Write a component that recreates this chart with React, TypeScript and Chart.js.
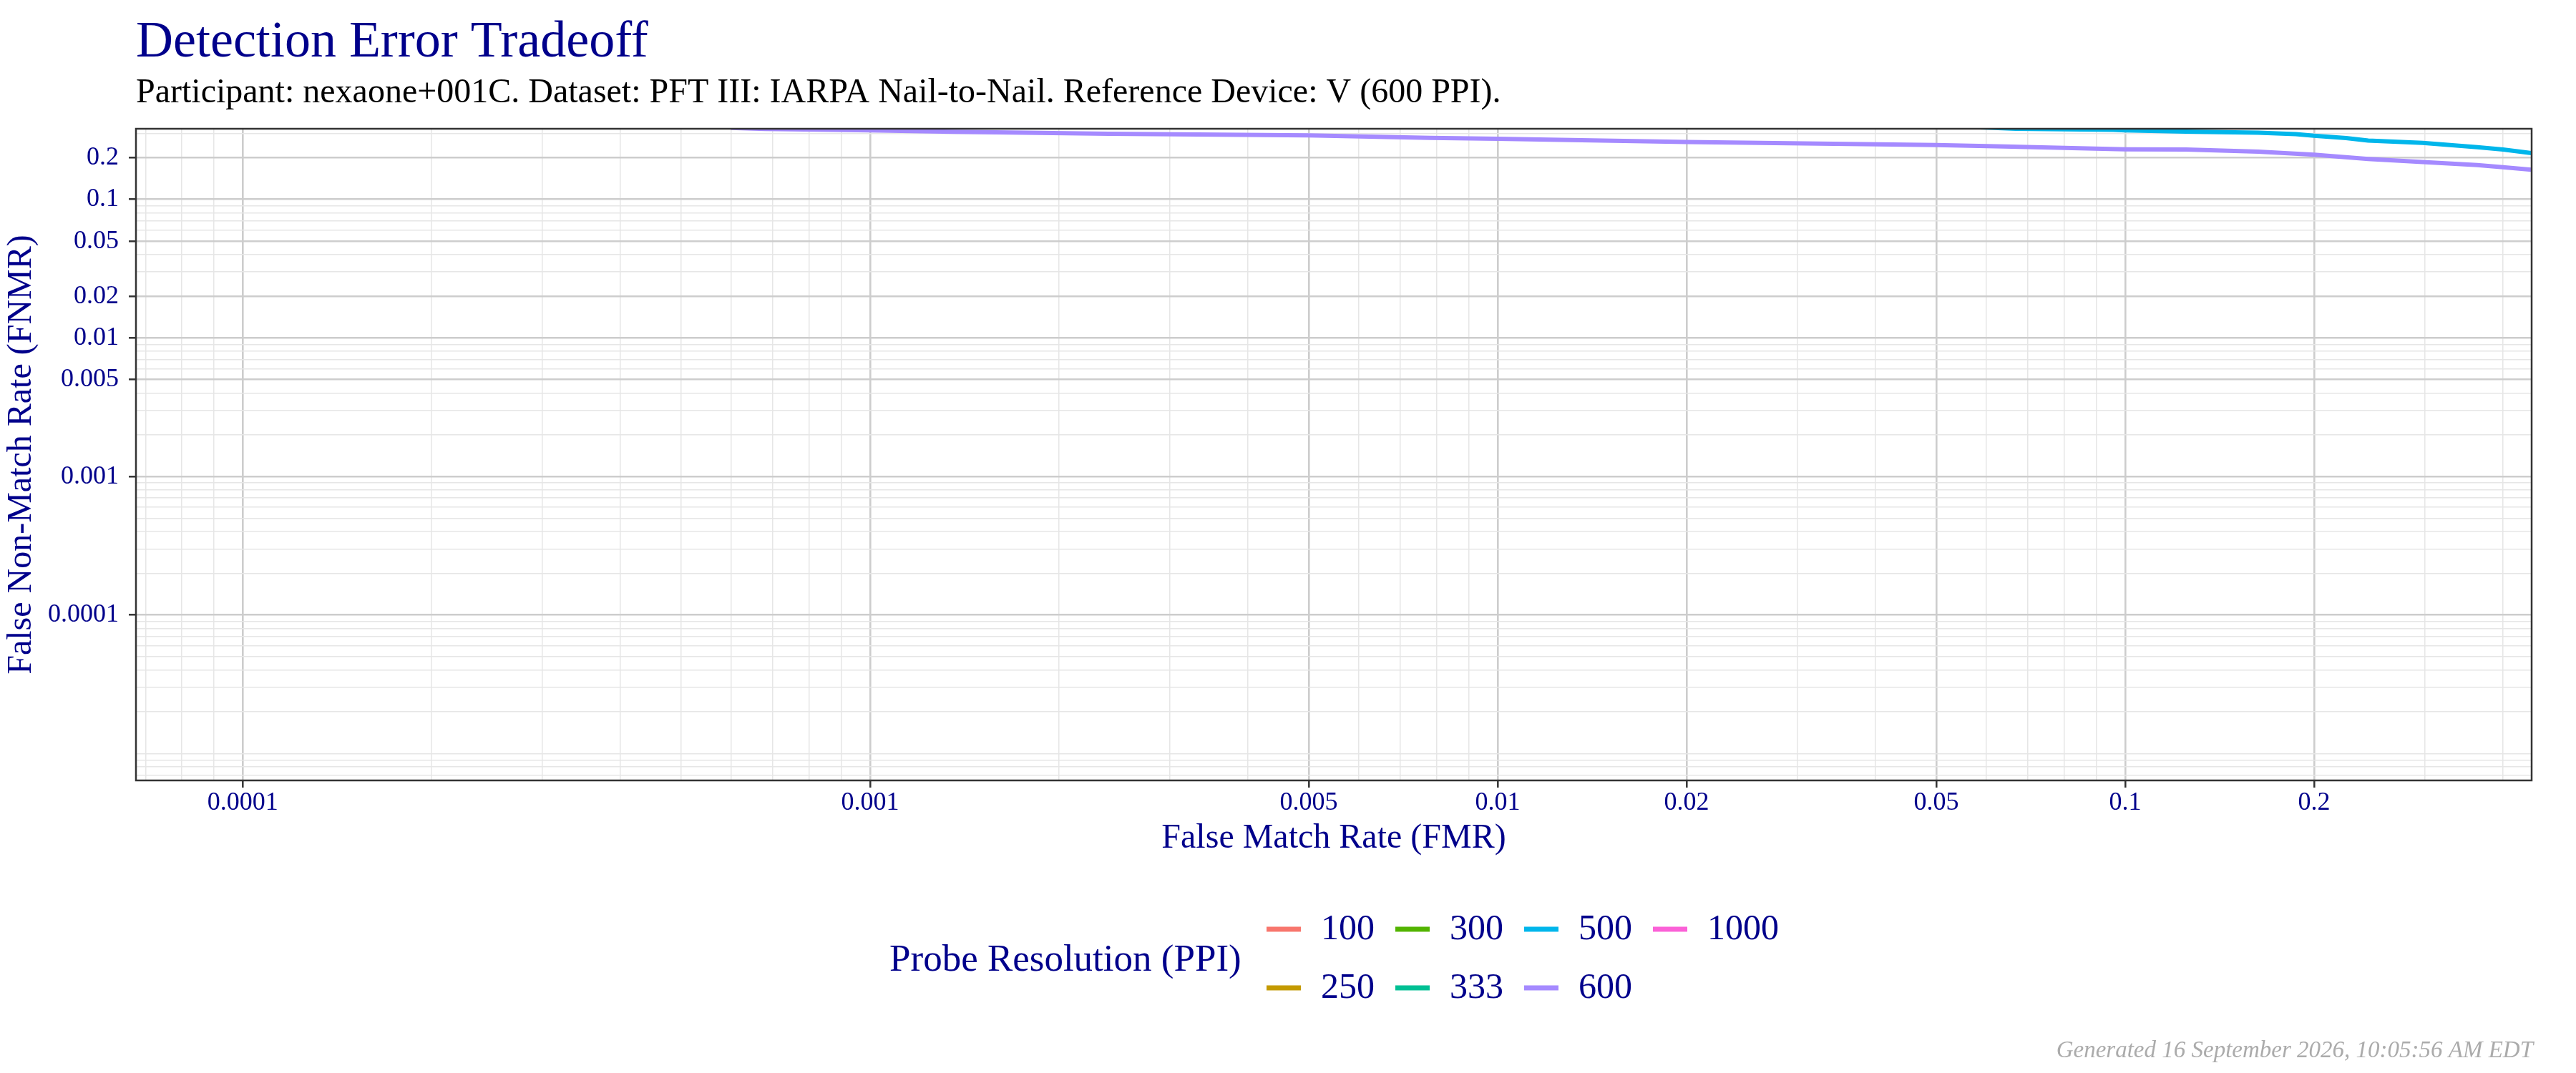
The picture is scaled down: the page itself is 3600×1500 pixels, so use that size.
import React, { useEffect, useRef } from 'react';
import { Chart, registerables } from 'chart.js';

Chart.register(...registerables);

// ---------------- data ----------------
const TITLE = 'Detection Error Tradeoff';
const SUBTITLE = 'Participant: nexaone+001C. Dataset: PFT III: IARPA Nail-to-Nail. Reference Device: V (600 PPI).';
const X_TITLE = 'False Match Rate (FMR)';
const Y_TITLE = 'False Non-Match Rate (FNMR)';
const LEGEND_TITLE = 'Probe Resolution (PPI)';
const FOOTER = 'Generated 16 September 2026, 10:05:56 AM EDT';

const SERIES_LABELS = ['100', '250', '300', '333', '500', '600', '1000'];
const SERIES_COLORS = ['#F8766D', '#C49A00', '#53B400', '#00C094', '#00B6EB', '#A58AFF', '#FB61D7'];

const FMR_500 = [0.055, 0.067, 0.0957, 0.1, 0.125, 0.163, 0.187, 0.2, 0.225, 0.244, 0.298, 0.364, 0.4, 0.444];
const FNMR_500 = [0.335, 0.324, 0.318, 0.315, 0.309, 0.303, 0.296, 0.288, 0.277, 0.266, 0.256, 0.238, 0.229, 0.216];

const FMR_600 = [0.0006, 0.00068, 0.001, 0.00136, 0.0024, 0.005, 0.0078, 0.01, 0.02, 0.05, 0.0641, 0.1, 0.125, 0.163, 0.2, 0.244, 0.298, 0.364, 0.4, 0.444];
const FNMR_600 = [0.328, 0.323, 0.315, 0.308, 0.298, 0.29, 0.278, 0.274, 0.26, 0.247, 0.241, 0.23, 0.229, 0.221, 0.21, 0.196, 0.186, 0.177, 0.171, 0.164];

const SERIES_FMR: number[][] = [[], [], [], [], FMR_500, FMR_600, []];
const SERIES_FNMR: number[][] = [[], [], [], [], FNMR_500, FNMR_600, []];

const X_TICKS = [0.0001, 0.001, 0.005, 0.01, 0.02, 0.05, 0.1, 0.2];
const Y_TICKS = [0.0001, 0.001, 0.005, 0.01, 0.02, 0.05, 0.1, 0.2];
const X_MIN = 6.76e-5;
const X_MAX = 0.4444;
const Y_MIN = 6.4e-6;
const Y_MAX = 0.3236;

// ---------------- styling ----------------
const SERIF = "'Liberation Serif', 'Times New Roman', serif";
const NAVY = '#00008B';
const MAJOR_GRID = '#CDCDCD';
const MINOR_GRID = '#E6E6E6';

function isLabelled(v: number, list: number[]) {
  return list.some((t) => Math.abs(t - v) / t < 1e-9);
}

function logGridTicks(min: number, max: number) {
  const out: { value: number }[] = [];
  const k0 = Math.floor(Math.log10(min));
  const k1 = Math.ceil(Math.log10(max));
  for (let k = k0; k <= k1; k++) {
    for (let m = 1; m <= 9; m++) {
      const v = parseFloat((m * Math.pow(10, k)).toPrecision(10));
      if (v >= min && v <= max) out.push({ value: v });
    }
  }
  return out;
}

function axisOptions(min: number, max: number, labels: number[], isX: boolean) {
  return {
    type: 'logarithmic' as const,
    min,
    max,
    afterBuildTicks: (scale: any) => {
      scale.ticks = logGridTicks(min, max);
    },
    afterFit: (scale: any) => {
      if (isX) scale.height = 130;
      else scale.width = 190;
    },
    border: { display: false },
    grid: {
      drawTicks: true,
      tickLength: 10,
      tickWidth: 2.5,
      color: (ctx: any) => (ctx.tick && isLabelled(ctx.tick.value, labels) ? MAJOR_GRID : MINOR_GRID),
      lineWidth: (ctx: any) => (ctx.tick && isLabelled(ctx.tick.value, labels) ? 2.6 : 1.5),
      tickColor: (ctx: any) => (ctx.tick && isLabelled(ctx.tick.value, labels) ? '#333333' : 'rgba(0,0,0,0)'),
    },
    ticks: {
      autoSkip: false,
      maxRotation: 0,
      minRotation: 0,
      padding: isX ? 0 : 14,
      color: NAVY,
      font: { family: SERIF, size: 36 },
      callback: (v: any) => (isLabelled(Number(v), labels) ? String(Number(v)) : ''),
    },
    title: {
      display: true,
      text: isX ? X_TITLE : Y_TITLE,
      color: NAVY,
      font: { family: SERIF, size: 48 },
      padding: isX ? { top: 0, bottom: 20 } : { top: 2, bottom: 0 },
    },
  };
}

const framePlugin = {
  id: 'frame',
  afterDatasetsDraw(chart: any) {
    const { ctx, chartArea } = chart;
    ctx.save();
    ctx.strokeStyle = '#333333';
    ctx.lineWidth = 2.5;
    ctx.strokeRect(chartArea.left, chartArea.top, chartArea.right - chartArea.left, chartArea.bottom - chartArea.top);
    ctx.restore();
  },
};

const decorPlugin = {
  id: 'decor',
  afterDraw(chart: any) {
    const { ctx, chartArea } = chart;
    ctx.save();
    ctx.textAlign = 'left';
    ctx.textBaseline = 'alphabetic';
    ctx.fillStyle = NAVY;
    ctx.font = `72px ${SERIF}`;
    ctx.fillText(TITLE, chartArea.left, 79);
    ctx.fillStyle = '#000000';
    ctx.font = `48px ${SERIF}`;
    ctx.fillText(SUBTITLE, chartArea.left, 143);

    // legend
    ctx.fillStyle = NAVY;
    ctx.font = `53px ${SERIF}`;
    ctx.fillText(LEGEND_TITLE, 1243, 1357);
    const datasets = chart.data.datasets;
    ctx.font = `50px ${SERIF}`;
    ctx.textBaseline = 'middle';
    datasets.forEach((ds: any, i: number) => {
      const col = Math.floor(i / 2);
      const row = i % 2;
      const x0 = 1770 + col * 180;
      const y = row === 0 ? 1299 : 1381;
      ctx.strokeStyle = ds.borderColor;
      ctx.lineWidth = 7;
      ctx.beginPath();
      ctx.moveTo(x0, y);
      ctx.lineTo(x0 + 48, y);
      ctx.stroke();
      ctx.fillStyle = NAVY;
      ctx.fillText(ds.label, x0 + 76, y + 1);
    });

    // footer
    ctx.textBaseline = 'alphabetic';
    ctx.textAlign = 'right';
    ctx.fillStyle = '#ABABAB';
    ctx.font = `italic 33px ${SERIF}`;
    ctx.fillText(FOOTER, chartArea.right + 2, 1478);
    ctx.restore();
  },
};

export default function App() {
  const ref = useRef<HTMLCanvasElement>(null);
  useEffect(() => {
    if (!ref.current) return;
    const datasets = SERIES_LABELS.map((label, i) => ({
      label,
      data: SERIES_FMR[i].map((x, j) => ({ x, y: SERIES_FNMR[i][j] })),
      borderColor: SERIES_COLORS[i],
      backgroundColor: SERIES_COLORS[i],
      borderWidth: 6,
      pointRadius: 0,
      pointHoverRadius: 0,
      tension: 0,
      fill: false,
      clip: 0,
      borderJoinStyle: 'round' as const,
    }));
    const chart = new Chart(ref.current, {
      type: 'line',
      data: { datasets },
      options: {
        responsive: false,
        maintainAspectRatio: false,
        devicePixelRatio: 1,
        animation: false,
        parsing: true,
        layout: { padding: { left: 0, top: 180, right: 62, bottom: 279 } },
        plugins: {
          legend: { display: false },
          title: { display: false },
          tooltip: { enabled: false },
        },
        scales: {
          x: axisOptions(X_MIN, X_MAX, X_TICKS, true) as any,
          y: axisOptions(Y_MIN, Y_MAX, Y_TICKS, false) as any,
        },
      },
      plugins: [framePlugin, decorPlugin],
    });
    return () => chart.destroy();
  }, []);
  return (
    <div style={{ position: 'absolute', left: 0, top: 0, width: 3600, height: 1500, background: '#ffffff' }}>
      <canvas ref={ref} width={3600} height={1500} style={{ width: 3600, height: 1500, display: 'block' }} />
    </div>
  );
}
